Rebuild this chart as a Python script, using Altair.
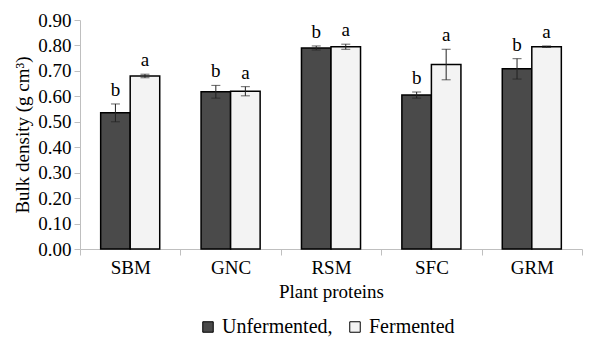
import altair as alt
import pandas as pd

proteins = ["SBM", "GNC", "RSM", "SFC", "GRM"]
treatments = ["Unfermented", "Fermented"]
unfermented_mean = [0.535, 0.618, 0.790, 0.605, 0.708]
unfermented_sd = [0.035, 0.025, 0.008, 0.012, 0.040]
fermented_mean = [0.680, 0.620, 0.795, 0.725, 0.795]
fermented_sd = [0.007, 0.018, 0.010, 0.060, 0.003]
unfermented_letters = ["b", "b", "b", "b", "b"]
fermented_letters = ["a", "a", "a", "a", "a"]
y_ticks = [0.0, 0.1, 0.2, 0.3, 0.4, 0.5, 0.6, 0.7, 0.8, 0.9]

rows = []
for i, p in enumerate(proteins):
    rows.append(dict(protein=p, treatment="Unfermented", mean=unfermented_mean[i],
                     sd=unfermented_sd[i], letter=unfermented_letters[i]))
    rows.append(dict(protein=p, treatment="Fermented", mean=fermented_mean[i],
                     sd=fermented_sd[i], letter=fermented_letters[i]))
df = pd.DataFrame(rows)

FONT = "Liberation Serif"
FS = 19
YTITLE = "Bulk density (g cm³)"

x = alt.X("protein:N", sort=proteins, title="Plant proteins",
          scale=alt.Scale(paddingInner=0, paddingOuter=0),
          axis=alt.Axis(labelAngle=0, tickBand="extent", domainColor="#bfbfbf",
                        tickColor="#bfbfbf", tickSize=6, labelPadding=3,
                        titlePadding=5, labelFont=FONT, titleFont=FONT))
xoff = alt.XOffset("treatment:N", sort=treatments,
                   scale=alt.Scale(paddingInner=0, paddingOuter=0.7))
yscale = alt.Scale(domain=[0, 0.9], nice=False)
yaxis = alt.Axis(values=y_ticks, format=".2f", grid=False, labelOverlap=False,
                 domainColor="#bfbfbf", tickColor="#bfbfbf", tickSize=6,
                 labelPadding=3, titlePadding=5, labelFont=FONT, titleFont=FONT)


def Y(field):
    return alt.Y(field, title=YTITLE, scale=yscale, axis=yaxis)


base = alt.Chart(df).transform_calculate(
    lo="datum.mean - datum.sd", hi="datum.mean + datum.sd"
)

bars = base.mark_bar(stroke="black", strokeWidth=1.5).encode(
    x=x,
    xOffset=xoff,
    y=Y("mean:Q"),
    fill=alt.Fill("treatment:N", sort=treatments,
                  scale=alt.Scale(domain=treatments, range=["#4a4a4a", "#f3f3f3"]),
                  legend=alt.Legend(orient="none", legendX=118, legendY=297,
                                    direction="horizontal", title=None,
                                    symbolType="square", symbolSize=110,
                                    symbolStrokeColor="black", symbolStrokeWidth=1,
                                    labelExpr="datum.label == 'Unfermented' ? 'Unfermented,' : datum.label",
                                    labelFontSize=20, labelFont=FONT, columnPadding=12)),
)

err = base.mark_rule(color="#222222", strokeWidth=1).encode(
    x=x, xOffset=xoff, y=Y("lo:Q"), y2="hi:Q"
)
cap_hi = base.mark_tick(color="#222222", thickness=1, size=9).encode(
    x=x, xOffset=xoff, y=Y("hi:Q")
)
cap_lo = base.mark_tick(color="#222222", thickness=1, size=9).encode(
    x=x, xOffset=xoff, y=Y("lo:Q")
)
letters = base.mark_text(font=FONT, fontSize=FS, baseline="bottom", dy=-4,
                         color="black").encode(
    x=x, xOffset=xoff, y=Y("hi:Q"), text="letter:N"
)

chart = alt.layer(bars, err, cap_lo, cap_hi, letters).properties(
    width=502, height=229, padding={"left": 5, "top": 3, "right": 0, "bottom": 5}
).configure(font=FONT).configure_view(stroke=None).configure_axis(
    labelFont=FONT, titleFont=FONT, labelFontSize=FS, titleFontSize=FS,
    titleFontWeight="normal", labelColor="black", titleColor="black"
).configure_legend(labelColor="black", labelFont=FONT)

chart.save("out.html", embed_options={"renderer": "svg", "actions": False})
